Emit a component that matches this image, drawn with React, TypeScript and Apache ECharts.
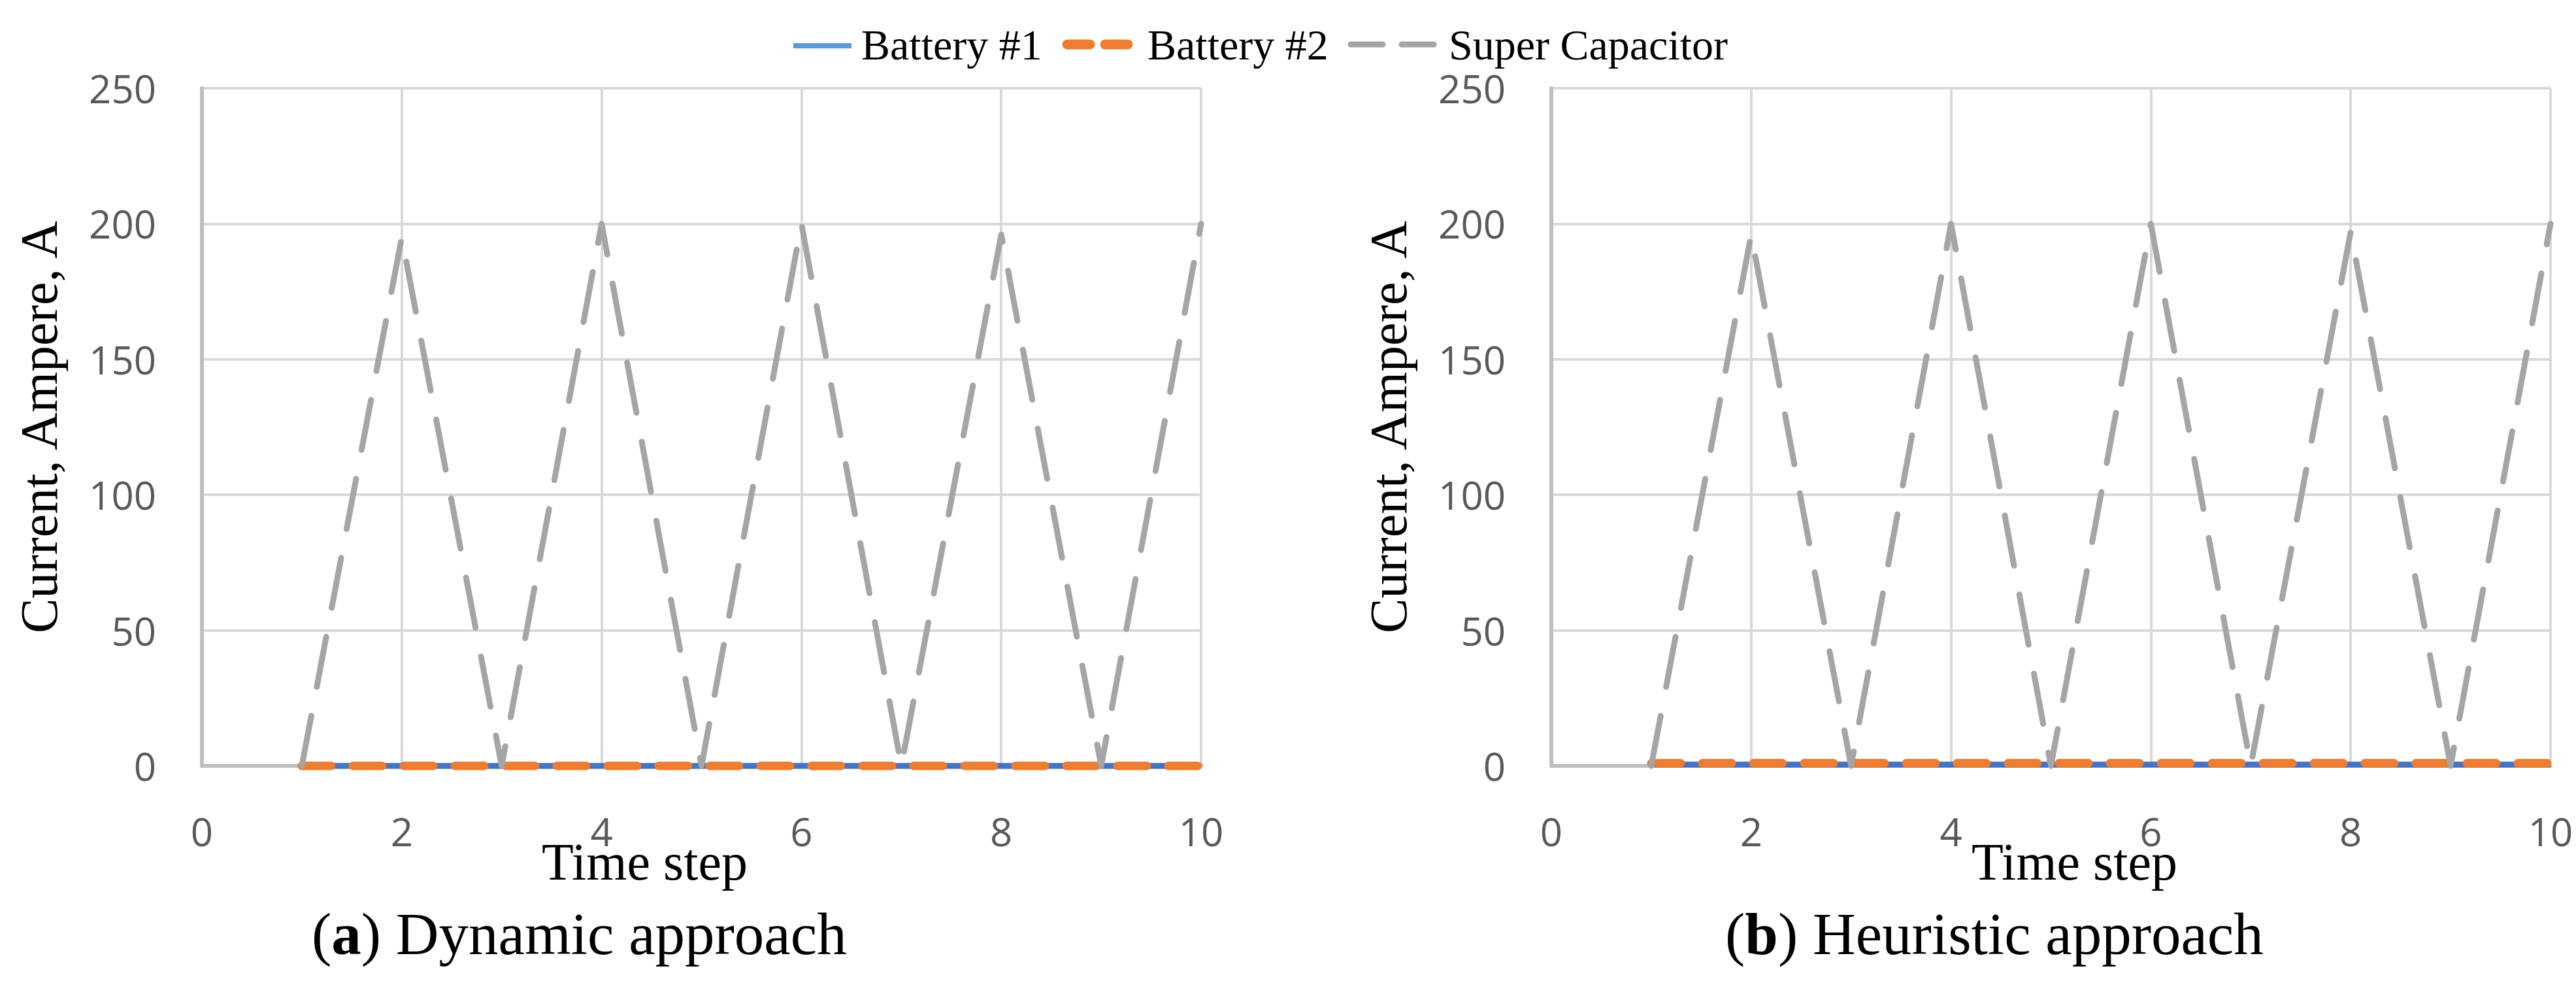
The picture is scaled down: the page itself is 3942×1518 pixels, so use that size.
import React, { useEffect, useRef } from "react";
import * as echarts from "echarts";

// ---- data ----
const timeSteps = [1, 2, 3, 4, 5, 6, 7, 8, 9, 10];
const dynamicBattery1 = [0, 0, 0, 0, 0, 0, 0, 0, 0, 0];
const dynamicBattery2 = [0, 0, 0, 0, 0, 0, 0, 0, 0, 0];
const dynamicSuperCap = [0, 195, 0, 200, 0, 200, 0, 196, 0, 200];
const heuristicBattery1 = [0.5, 0.5, 0.5, 0.5, 0.5, 0.5, 0.5, 0.5, 0.5, 0.5];
const heuristicBattery2 = [1, 1, 1, 1, 1, 1, 1, 1, 1, 1];
const heuristicSuperCap = [0, 196, 0, 200, 0, 200, 0, 197, 0, 200];

const seriesNames = ["Battery #1", "Battery #2", "Super Capacitor"];
const captions = ["Dynamic approach", "Heuristic approach"];
const captionLetters = ["a", "b"];
const xAxisTitle = "Time step";
const yAxisTitle = "Current, Ampere, A";
const xMin = 0, xMax = 10, xInterval = 2;
const yMin = 0, yMax = 250, yInterval = 50;

const SERIF = "'Liberation Serif', 'Times New Roman', serif";
const SANS = "'Open Sans', 'Noto Sans', sans-serif";
const C_B1 = "#4472C4";
const C_B1_LEG = "#5B9BD5";
const C_B2 = "#ED7D31";
const C_SC = "#A5A5A5";

const pairs = (xs: number[], ys: number[]) => xs.map((x, i) => [x, ys[i]]);

export default function App() {
  const ref = useRef<HTMLDivElement>(null);

  useEffect(() => {
    if (!ref.current) return;
    const chart = echarts.init(ref.current, undefined, { renderer: "svg" });

    const grids = [
      { left: 309, top: 135, width: 1529, height: 1037 },
      { left: 2374, top: 135, width: 1529, height: 1037 },
    ];

    const xAxes = grids.map((_, i) => ({
      type: "value",
      gridIndex: i,
      min: xMin,
      max: xMax,
      interval: xInterval,
      axisLine: { show: true, onZero: false, lineStyle: { color: "#BFBFBF", width: 6 } },
      axisTick: { show: false },
      splitLine: { show: true, lineStyle: { color: "#D9D9D9", width: 4 } },
      axisLabel: { color: "#595959", fontFamily: SANS, fontSize: 60, margin: 78, lineHeight: 44 },
    }));

    const yAxes = grids.map((_, i) => ({
      type: "value",
      gridIndex: i,
      min: yMin,
      max: yMax,
      interval: yInterval,
      name: yAxisTitle,
      nameLocation: "middle",
      nameGap: 209,
      nameTextStyle: { color: "#000", fontFamily: SERIF, fontSize: 80, lineHeight: 80 },
      axisLine: { show: true, lineStyle: { color: "#BFBFBF", width: 6 } },
      axisTick: { show: false },
      splitLine: { show: true, lineStyle: { color: "#D9D9D9", width: 4 } },
      axisLabel: { color: "#595959", fontFamily: SANS, fontSize: 60, margin: 70, lineHeight: 50 },
    }));

    const datasets = [
      [dynamicBattery1, dynamicBattery2, dynamicSuperCap],
      [heuristicBattery1, heuristicBattery2, heuristicSuperCap],
    ];

    const series: any[] = [];
    datasets.forEach((ds, gi) => {
      series.push({
        type: "line",
        name: seriesNames[0],
        xAxisIndex: gi,
        yAxisIndex: gi,
        data: pairs(timeSteps, ds[0]),
        showSymbol: false,
        clip: false,
        lineStyle: { color: C_B1, width: 9 },
        z: 3,
      });
      series.push({
        type: "line",
        name: seriesNames[1],
        xAxisIndex: gi,
        yAxisIndex: gi,
        data: pairs(timeSteps, ds[1]),
        showSymbol: false,
        clip: false,
        lineStyle: { color: C_B2, width: 13, type: [45, 33], cap: "round" },
        z: 4,
      });
      series.push({
        type: "line",
        name: seriesNames[2],
        xAxisIndex: gi,
        yAxisIndex: gi,
        data: pairs(timeSteps, ds[2]),
        showSymbol: false,
        clip: false,
        lineStyle: { color: C_SC, width: 9, type: [78, 45], cap: "round", join: "round" },
        z: 5,
      });
    });

    const legendY = 70;
    const legendTextY = 68;
    const legendFont = { fill: "#000", fontFamily: SERIF, fontSize: 66, lineHeight: 54, verticalAlign: "middle", align: "left" };
    const graphic: any[] = [
      // legend symbols
      { type: "line", shape: { x1: 1214, y1: legendY, x2: 1303, y2: legendY }, style: { stroke: C_B1_LEG, lineWidth: 8 } },
      { type: "line", shape: { x1: 1633, y1: legendY - 2, x2: 1668, y2: legendY - 2 }, style: { stroke: C_B2, lineWidth: 15, lineCap: "round" } },
      { type: "line", shape: { x1: 1691, y1: legendY - 2, x2: 1726, y2: legendY - 2 }, style: { stroke: C_B2, lineWidth: 15, lineCap: "round" } },
      { type: "line", shape: { x1: 2067, y1: legendY - 2, x2: 2116, y2: legendY - 2 }, style: { stroke: C_SC, lineWidth: 9, lineCap: "round" } },
      { type: "line", shape: { x1: 2145, y1: legendY - 2, x2: 2194, y2: legendY - 2 }, style: { stroke: C_SC, lineWidth: 9, lineCap: "round" } },
      // legend texts
      { type: "text", x: 1318, y: legendTextY, style: { ...legendFont, text: seriesNames[0] } },
      { type: "text", x: 1756, y: legendTextY, style: { ...legendFont, text: seriesNames[1] } },
      { type: "text", x: 2217, y: legendTextY, style: { ...legendFont, text: seriesNames[2] } },
      // x axis titles
      { type: "text", x: 829, y: 1319, style: { text: xAxisTitle, fill: "#000", fontFamily: SERIF, fontSize: 80, lineHeight: 46, verticalAlign: "middle", align: "left" } },
      { type: "text", x: 3017, y: 1319, style: { text: xAxisTitle, fill: "#000", fontFamily: SERIF, fontSize: 80, lineHeight: 46, verticalAlign: "middle", align: "left" } },
    ];

    const captionX = [477, 2640];
    captionX.forEach((cx, i) => {
      graphic.push({
        type: "text",
        x: cx,
        y: 1429,
        style: {
          text: `({b|${captionLetters[i]}}) ${captions[i]}`,
          fill: "#000",
          fontFamily: SERIF,
          fontSize: 91,
          lineHeight: 80,
          verticalAlign: "middle",
          align: "left",
          rich: {
            b: { fontFamily: SERIF, fontSize: 91, lineHeight: 80, fontWeight: "bold", fill: "#000" },
          },
        },
      });
    });

    chart.setOption({
      animation: false,
      backgroundColor: "#ffffff",
      grid: grids,
      xAxis: xAxes,
      yAxis: yAxes,
      series,
      graphic,
    });

    return () => chart.dispose();
  }, []);

  return (
    <div
      ref={ref}
      style={{ position: "fixed", left: 0, top: 0, width: 3942, height: 1518, background: "#fff" }}
    />
  );
}
